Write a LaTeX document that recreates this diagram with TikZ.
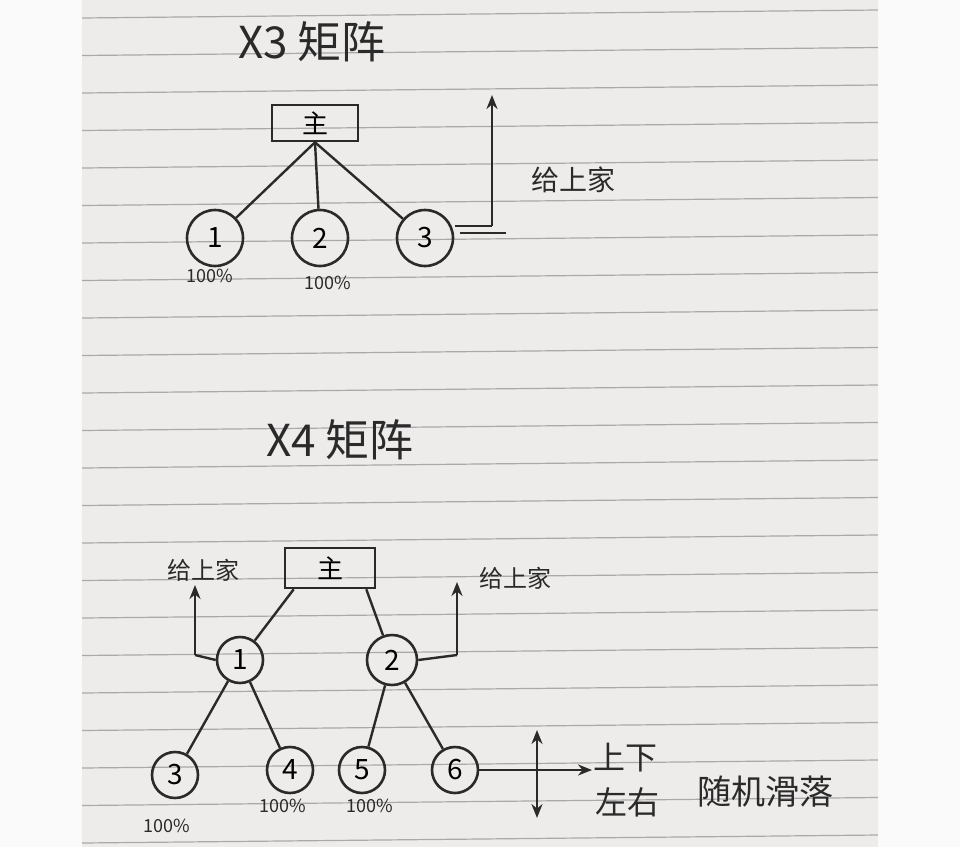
\documentclass[tikz,border=0pt]{standalone}
\usepackage{fontspec}
\setmainfont{Noto Sans CJK SC}
\usetikzlibrary{arrows.meta}
\definecolor{paper}{HTML}{EDECEA}
\definecolor{rule}{HTML}{A9A9AB}
\definecolor{ink}{HTML}{2A2A2A}
\tikzset{
  circ/.style={draw=ink,line width=2.6pt,circle,minimum size=56pt,inner sep=0pt,font=\fontsize{28}{28}\selectfont},
  sbox/.style={draw=ink,line width=2.6pt,minimum width=86pt,minimum height=36pt,inner sep=0pt,font=\fontsize{26}{26}\selectfont},
  wire/.style={draw=ink,line width=2.4pt},
  arr/.style={wire,-{Stealth[length=14pt,width=11pt]}},
  txt/.style={text=ink,inner sep=0pt},
  pct/.style={txt,font=\fontsize{18}{18}\selectfont},
  lbl/.style={txt,font=\fontsize{28}{28}\selectfont},
  ttl/.style={txt,font=\fontsize{44}{44}\selectfont}
}
\begin{document}
\begin{tikzpicture}[x=1pt,y=-1pt]
\useasboundingbox (0,0) rectangle (960,847);
\fill[white!96!gray] (0,0) rectangle (960,847);
\fill[paper] (82,0) rectangle (878,847);
\foreach \i in {0,...,22} \draw[rule,line width=1.2pt] (82,{18+\i*37.5}) -- (878,{10+\i*37.5});
% X3
\node[ttl] (t1) at (312,42) {X3 矩阵};
\node[sbox] (m1) at (315,123) {主};
\node[circ] (a1) at (215,238) {1};
\node[circ] (a2) at (320,238) {2};
\node[circ] (a3) at (425,238) {3};
\draw[wire] (m1.south) -- (a1);
\draw[wire] (m1.south) -- (a2);
\draw[wire] (m1.south) -- (a3);
\node[pct] (p1) at (210,276) {100\%};
\node[pct] (p2) at (328,283) {100\%};
\coordinate (c1) at (492,226);
\coordinate (c2) at (492,95);
\coordinate (q1) at (455,226);
\coordinate (q2) at (460,233);
\coordinate (q3) at (506,233);
\draw[wire] (q1) -- (c1);
\draw[wire] (q2) -- (q3);
\draw[arr] (c1) -- (c2);
\node[lbl] (g1) at (573,180) {给上家};
% X4
\node[ttl] (t2) at (340,440) {X4 矩阵};
\node[sbox,minimum width=90pt,minimum height=40pt] (m2) at (330,568) {主};
\node[circ,minimum size=46pt] (b1) at (240,660) {1};
\node[circ,minimum size=50pt] (b2) at (392,660) {2};
\draw[wire] (m2.south west) ++(10,0) -- (b1);
\draw[wire] (m2.south east) ++(-10,0) -- (b2);
\coordinate (l1) at (195,655);
\coordinate (l2) at (195,585);
\draw[wire] (b1.west) -- (l1);
\draw[arr] (l1) -- (l2);
\node[lbl,font=\fontsize{24}{24}\selectfont] (g2) at (203,570) {给上家};
\coordinate (r1) at (457,655);
\coordinate (r2) at (457,582);
\draw[wire] (b2.east) -- (r1);
\draw[arr] (r1) -- (r2);
\node[lbl,font=\fontsize{24}{24}\selectfont] (g3) at (515,578) {给上家};
\node[circ,minimum size=46pt] (d3) at (175,775) {3};
\node[circ,minimum size=46pt] (d4) at (290,770) {4};
\node[circ,minimum size=46pt] (d5) at (362,770) {5};
\node[circ,minimum size=46pt] (d6) at (455,770) {6};
\draw[wire] (b1) -- (d3);
\draw[wire] (b1) -- (d4);
\draw[wire] (b2) -- (d5);
\draw[wire] (b2) -- (d6);
\node[pct] (p3) at (167,826) {100\%};
\node[pct] (p4) at (283,806) {100\%};
\node[pct] (p5) at (370,806) {100\%};
\coordinate (e1) at (518,770);
\coordinate (e2) at (537,730);
\coordinate (e3) at (537,818);
\coordinate (e4) at (592,770);
\draw[wire] (d6.east) -- (e1);
\draw[wire,{Stealth[length=14pt,width=11pt]}-{Stealth[length=14pt,width=11pt]}] (e2) -- (e3);
\draw[arr] (e1) -- (e4);
\node[lbl,font=\fontsize{32}{32}\selectfont] (s1) at (625,758) {上下};
\node[lbl,font=\fontsize{32}{32}\selectfont] (s2) at (627,802) {左右};
\node[lbl,font=\fontsize{34}{34}\selectfont] (s3) at (765,792) {随机滑落};
\end{tikzpicture}
\end{document}
